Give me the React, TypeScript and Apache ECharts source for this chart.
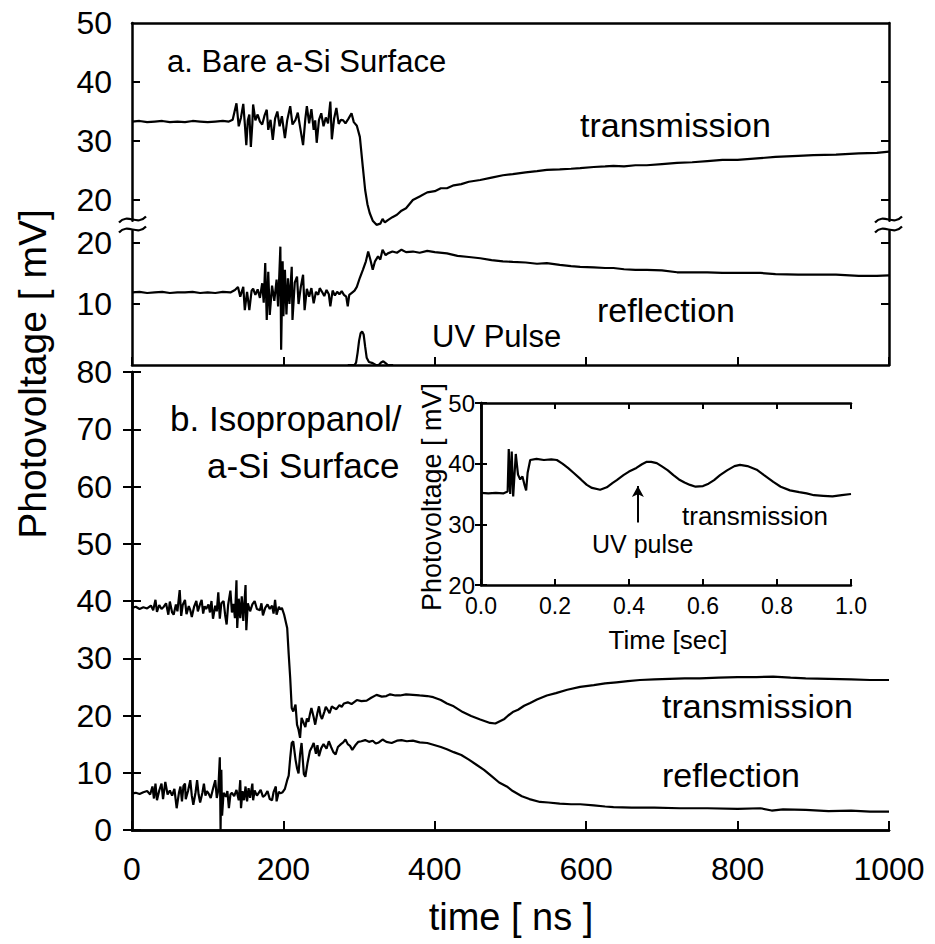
import React, { useEffect, useRef } from "react";
import * as echarts from "echarts";

// ---------- DATA ----------
// Panel a (bare a-Si): time [ns], photovoltage [mV]
const transA: [number, number][] = [
  [0,33.3],[10,33.4],[20,33.2],[30,33.3],[40,33.4],[50,33.2],[60,33.3],[70,33.2],[80,33.4],[90,33.3],[100,33.2],[110,33.3],[120,33.4],[128,33.3],[133,33.6],
  [138,36.4],[141,32.5],[144,34],[147,36.3],[149,33],[151,29.3],[153,33.5],[155,34.5],[157,29.0],[159,33],[160,36.2],[163,33.5],[166,34.5],[169,33.3],[172,32.8],[175,34.3],[178,35.3],[180,31.9],[183,33.6],[186,30.2],[189,33.8],[192,35.0],[195,32.5],[198,34.2],[202,30.5],[205,33.5],[209,35.9],[212,32.8],[216,33.6],[219,34.8],[222,32.4],[226,29.3],[229,33.8],[231,35.9],[234,33.0],[237,35.4],[240,31.9],[242,33.5],[244,29.7],[247,33.6],[250,34.7],[253,32.5],[256,34.0],[259,33.0],[262,36.7],[264,30.3],[267,33.8],[270,35.6],[273,32.9],[276,33.6],[279,33.5],[282,33.0],[286,33.8],[290,34.7],[293,33.2],
  [297,32.6],[301,30.7],[305,25.5],[308,21.7],[311,19.3],[314,17.8],[318,16.5],[323,15.8],[328,16.0],[331,16.8],[334,16.2],[338,16.6],[344,17.1],[350,17.5],[356,18.2],[362,18.6],[371,20.0],[380,20.6],[390,21.3],[400,21.5],[408,22.0],[416,22.0],[425,22.5],[435,22.7],[445,23.1],[460,23.4],[475,23.8],[490,24.2],[503,24.4],[520,24.7],[535,24.9],[548,25.1],[565,25.2],[580,25.3],[592,25.4],[610,25.6],[625,25.7],[636,25.8],[650,25.7],[665,25.9],[680,25.9],[700,26.1],[720,26.3],[740,26.4],[760,26.6],[780,26.8],[800,26.8],[830,27.1],[850,27.3],[880,27.5],[900,27.6],[930,27.7],[960,27.9],[984,28.0],[1000,28.2]
];
const reflA: [number, number][] = [
  [0,11.9],[10,12.0],[20,11.8],[30,11.9],[40,12.0],[50,11.8],[60,11.9],[70,11.9],[80,12.0],[90,11.8],[100,11.9],[110,11.8],[120,12.0],[130,11.9],[136,12.3],
  [140,12.8],[143,11.2],[147,12.8],[149,9.0],[152,12.0],[155,9.0],[158,12.2],[160,12.5],[163,11.5],[166,12.4],[169,11.0],[172,13.4],[174,10.2],[176,16.7],[178,7.4],[180,15.3],[182,8.2],[185,13.0],[188,10.5],[191,14.0],[193,9.6],[196,19.4],[197,2.5],[199,17.0],[200,8.0],[202,15.6],[204,8.3],[206,14.2],[208,10.0],[211,16.1],[212,7.4],[215,13.5],[218,14.5],[220,10.0],[223,12.8],[226,14.8],[228,9.0],[231,12.5],[234,11.2],[237,12.6],[240,10.1],[243,12.0],[246,11.5],[248,12.6],[251,12.0],[254,11.3],[257,12.3],[260,11.6],[262,9.6],[265,12.2],[268,11.4],[271,12.0],[274,11.6],[277,12.1],[280,11.5],[283,11.2],[285,9.6],[287,11.5],[290,11.8],[294,12.2],
  [297,12.8],[301,14.3],[305,15.6],[309,17.0],[312,18.6],[315,17.2],[318,15.6],[321,17.0],[325,17.8],[328,17.3],[331,18.9],[335,18.0],[338,18.3],[344,18.6],[350,18.4],[356,18.9],[362,18.5],[371,18.6],[380,18.4],[390,18.7],[400,18.5],[416,18.3],[430,17.9],[445,17.7],[460,17.5],[475,17.2],[490,17.0],[503,16.9],[520,16.8],[535,16.6],[548,16.7],[565,16.4],[580,16.2],[592,16.1],[610,16.0],[625,15.9],[636,15.9],[650,15.7],[665,15.6],[680,15.6],[700,15.5],[720,15.2],[740,15.2],[760,15.2],[780,15.1],[800,15.1],[830,15.1],[850,14.9],[880,14.8],[900,14.8],[930,14.8],[960,14.6],[984,14.6],[1000,14.7]
];
const uvPulse: [number, number][] = [
  [285,0],[294,0],[296,0.4],[298,2.0],[300,4.0],[302,5.2],[304,5.5],[306,5.0],[308,3.0],[310,1.2],[313,0.5],[318,0.3],[322,0],[326,0],[329,0.4],[332,0.6],[335,0.3],[338,0],[345,0]
];
// Panel b (isopropanol / a-Si)
const transB: [number, number][] = [
  [0,38.8],[5,39.0],[10,38.6],[15,38.9],[20,38.7],[25,39.2],[28,38.4],[31,40.2],[33,38.1],[36,39.3],[39,38.6],[42,39.0],[45,39.6],[48,37.6],[50,39.9],[53,38.0],[55,37.6],[58,39.4],[60,38.2],[63,41.9],[65,37.4],[67,39.3],[70,40.2],[72,37.7],[75,39.1],[77,38.4],[79,37.2],[82,39.0],[85,40.0],[87,38.2],[90,39.5],[92,40.2],[94,37.8],[96,39.1],[98,38.6],[101,39.4],[103,38.0],[105,40.0],[107,36.9],[110,39.2],[112,38.2],[114,41.5],[116,36.9],[118,39.6],[121,40.0],[123,37.6],[125,35.9],[127,39.3],[130,41.8],[132,38.0],[134,39.5],[136,37.0],[138,43.6],[139,35.3],[141,40.4],[143,37.0],[145,40.8],[147,36.5],[150,42.8],[151,34.9],[153,39.6],[156,38.2],[159,39.4],[162,40.0],[165,38.6],[169,38.4],[171,39.6],[173,37.5],[176,38.8],[179,39.4],[182,38.6],[185,39.2],[187,37.8],[189,40.2],[191,37.6],[194,39.0],[196,38.5],[198,38.8],
  [201,37.6],[205,35.3],[207,30.7],[209,26.5],[211,21.3],[213,20.7],[216,21.9],[218,18.4],[220,17.5],[222,16.1],[224,19.6],[227,18.6],[229,18.0],[231,19.5],[233,18.9],[235,20.2],[237,21.3],[240,19.7],[242,18.4],[245,20.5],[247,21.6],[249,20.0],[251,19.4],[254,20.6],[256,21.5],[258,21.1],[261,20.4],[264,21.6],[267,21.3],[270,21.1],[274,21.8],[277,21.5],[280,22.1],[285,22.3],[290,22.0],[297,22.7],[303,22.5],[310,22.6],[316,23.1],[323,23.6],[330,23.3],[336,23.4],[341,23.7],[348,23.5],[354,23.5],[362,23.7],[371,23.6],[380,23.5],[390,23.4],[398,23.2],[408,22.7],[416,22.1],[425,21.6],[437,20.6],[448,19.9],[460,19.3],[473,18.7],[480,18.6],[486,19.0],[492,19.4],[497,20.0],[503,20.6],[510,21.0],[518,21.7],[526,22.2],[535,22.8],[548,23.5],[560,23.9],[575,24.5],[592,25.0],[610,25.3],[625,25.6],[640,25.8],[655,26.0],[671,26.2],[690,26.3],[710,26.4],[730,26.5],[750,26.5],[775,26.6],[800,26.7],[825,26.7],[847,26.8],[870,26.6],[890,26.5],[920,26.4],[950,26.3],[975,26.2],[1000,26.2]
];
const reflB: [number, number][] = [
  [0,6.4],[5,6.5],[10,6.3],[15,6.6],[20,6.8],[24,6.2],[27,7.6],[29,5.5],[31,8.1],[33,5.2],[36,6.9],[39,8.1],[41,5.4],[44,8.4],[47,6.2],[50,6.9],[53,6.0],[56,7.2],[59,3.8],[62,6.5],[64,7.6],[66,5.0],[68,7.7],[70,8.1],[71,5.4],[74,6.8],[77,8.7],[79,6.0],[81,4.4],[84,6.6],[86,8.7],[88,6.2],[90,4.8],[93,6.5],[95,8.1],[97,6.0],[99,6.8],[101,6.4],[104,5.6],[107,7.2],[110,8.7],[112,5.6],[114,7.0],[116,12.7],[117,0],[118,10.5],[119,2.5],[121,6.5],[124,5.8],[126,6.8],[128,3.8],[130,6.2],[132,6.5],[135,5.9],[138,7.0],[141,5.2],[143,8.7],[144,3.8],[146,6.8],[148,5.2],[150,7.6],[152,5.0],[154,7.3],[156,5.6],[159,8.1],[160,5.2],[162,6.9],[165,6.0],[167,6.4],[170,7.0],[173,5.8],[176,6.1],[179,6.8],[182,5.4],[185,5.2],[187,6.6],[190,7.6],[191,5.0],[194,6.7],[196,6.4],[199,6.6],
  [202,7.2],[205,8.7],[207,9.5],[209,12.6],[211,15.2],[213,15.5],[216,12.3],[218,10.8],[220,9.9],[222,13.2],[224,15.2],[227,9.8],[229,9.3],[232,11.8],[235,13.8],[238,14.6],[240,15.2],[243,13.3],[245,14.8],[247,12.9],[250,14.3],[253,15.0],[257,14.2],[260,15.5],[263,14.5],[266,13.6],[269,13.2],[272,14.5],[276,15.0],[279,15.3],[282,15.8],[285,15.0],[288,14.7],[291,14.0],[295,14.8],[299,15.4],[303,15.5],[308,15.7],[313,15.4],[318,15.6],[322,15.1],[326,15.3],[331,15.8],[336,15.4],[343,15.2],[350,15.6],[356,15.7],[363,15.5],[371,15.6],[380,15.3],[390,15.2],[398,14.9],[408,14.5],[416,14.1],[425,13.6],[435,13.1],[445,12.3],[455,11.4],[465,10.5],[475,9.4],[485,8.3],[495,7.6],[503,6.8],[515,5.9],[525,5.4],[539,4.9],[550,4.8],[565,4.6],[580,4.5],[592,4.5],[610,4.3],[625,4.1],[636,4.0],[660,3.9],[690,3.9],[724,3.8],[760,3.8],[800,3.7],[830,3.8],[845,3.4],[860,3.6],[890,3.5],[920,3.3],[950,3.4],[975,3.2],[1000,3.2]
];
// Inset: time [sec], photovoltage [mV]
const insetTrans: [number, number][] = [
  [0,35.2],[0.02,35.1],[0.04,35.2],[0.06,35.1],[0.072,35.4],[0.075,42.4],[0.079,35.0],[0.083,42.0],[0.087,34.6],[0.094,41.6],[0.1,38.2],[0.106,37.4],[0.112,37.9],[0.118,36.4],[0.122,35.6],[0.126,38.5],[0.133,40.6],[0.15,40.8],[0.17,40.6],[0.19,40.7],[0.205,40.6],[0.22,40.0],[0.235,39.3],[0.25,38.5],[0.27,37.4],[0.286,36.5],[0.3,36.0],[0.322,35.7],[0.34,36.1],[0.355,36.8],[0.367,37.3],[0.385,38.1],[0.4,38.7],[0.42,39.3],[0.435,39.9],[0.448,40.3],[0.46,40.3],[0.475,40.1],[0.49,39.5],[0.505,38.9],[0.52,38.1],[0.535,37.4],[0.55,36.9],[0.565,36.5],[0.58,36.2],[0.6,36.3],[0.615,36.7],[0.63,37.3],[0.646,38.1],[0.665,38.9],[0.685,39.6],[0.7,39.8],[0.72,39.6],[0.745,39.0],[0.765,38.1],[0.79,37.0],[0.81,36.2],[0.835,35.6],[0.86,35.3],[0.88,35.1],[0.9,34.8],[0.925,34.7],[0.95,34.6],[0.975,34.8],[1.0,35.0]
];
const uvArrow: [number, number][] = [[0.424, 30.3], [0.424, 36.3]];
const upperTicks = [20, 30, 40];
const upperLabels = [20, 30, 40, 50];
const lowerTopTicks = [10, 20];

const FONT = "'Liberation Sans', Arial, sans-serif";
const BLACK = "#000";

export default function App() {
  const ref = useRef<HTMLDivElement>(null);
  useEffect(() => {
    if (!ref.current) return;
    const chart = echarts.init(ref.current, undefined, { renderer: "svg" });
    const line = { show: true, lineStyle: { color: BLACK, width: 2.5 } };
    const tick = (len: number, extra: any = {}) => ({ show: true, inside: true, length: len, lineStyle: { color: BLACK, width: 2 }, ...extra });
    const noLabel = { show: false };
    const label = (size: number, margin: number, extra: any = {}) => ({ show: true, color: BLACK, fontFamily: FONT, fontSize: size, margin, ...extra });
    const base = { type: "value", splitLine: { show: false } };
    const lineSeries = (data: any, xi: number, yi: number, extra: any = {}) => ({
      type: "line", data, xAxisIndex: xi, yAxisIndex: yi, showSymbol: false, symbol: "none",
      lineStyle: { color: BLACK, width: 2.2 }, silent: true, animation: false, ...extra,
    });
    const text = (t: string, x: number, y: number, size: number, extra: any = {}) => ({
      type: "text", x, y, ...extra,
      style: { text: t, fill: BLACK, font: `${size}px ${FONT}`, verticalAlign: "middle", align: "left", ...(extra.style || {}) },
    });
    const wave = (x: number, y: number) => ({
      type: "bezierCurve",
      shape: { x1: x, y1: y + 3, cpx1: x + 9, cpy1: y - 7, cpx2: x + 18, cpy2: y + 7, x2: x + 27, y2: y - 3 },
      style: { stroke: BLACK, lineWidth: 2.2, fill: null },
    });
    const plain = (v: number) => String(v);

    chart.setOption({
      animation: false,
      grid: [
        { left: 132, right: 46, top: 23, height: 197.7 },
        { left: 132, right: 46, top: 230.8, height: 134.2 },
        { left: 132, right: 46, top: 372, height: 458 },
        { left: 481, width: 370, top: 403, height: 182, show: true, backgroundColor: "#fff", borderWidth: 0 },
      ],
      xAxis: [
        { ...base, gridIndex: 0, min: 0, max: 1000, position: "top", axisLine: line, axisTick: { show: false }, axisLabel: noLabel },
        { ...base, gridIndex: 1, min: 0, max: 1000, interval: 200, position: "bottom", axisLine: line, axisTick: tick(8), axisLabel: noLabel },
        { ...base, gridIndex: 2, min: 0, max: 1000, interval: 200, position: "bottom", axisLine: line, axisTick: tick(9), axisLabel: label(32, 23, { formatter: plain }) },
        { ...base, gridIndex: 2, min: 0, max: 1000, position: "top", axisLine: line, axisTick: { show: false }, axisLabel: noLabel },
        { ...base, gridIndex: 3, min: 0, max: 1, interval: 0.2, position: "bottom", axisLine: line, axisTick: tick(6), axisLabel: label(23, 11, { lineHeight: 20, formatter: (v: number) => v.toFixed(1) }) },
        { ...base, gridIndex: 3, min: 0, max: 1, interval: 0.2, position: "top", axisLine: line, axisTick: tick(6), axisLabel: noLabel },
      ],
      yAxis: [
        { ...base, gridIndex: 0, min: 16.5, max: 50, position: "left", axisLine: line, axisTick: tick(8, { customValues: upperTicks }), axisLabel: label(32, 20, { customValues: upperLabels, formatter: plain }) },
        { ...base, gridIndex: 0, min: 16.5, max: 50, position: "right", axisLine: line, axisTick: tick(8, { customValues: upperTicks }), axisLabel: noLabel },
        { ...base, gridIndex: 1, min: 0, max: 22, position: "left", axisLine: line, axisTick: tick(8, { customValues: lowerTopTicks }), axisLabel: label(32, 20, { customValues: lowerTopTicks, formatter: plain }) },
        { ...base, gridIndex: 1, min: 0, max: 22, position: "right", axisLine: line, axisTick: tick(8, { customValues: lowerTopTicks }), axisLabel: noLabel },
        { ...base, gridIndex: 2, min: 0, max: 80, interval: 10, position: "left", axisLine: line, axisTick: tick(9), axisLabel: label(32, 20, { formatter: plain }) },
        { ...base, gridIndex: 2, min: 0, max: 80, interval: 10, position: "right", axisLine: line, axisTick: tick(9), axisLabel: noLabel },
        { ...base, gridIndex: 3, min: 20, max: 50, interval: 10, position: "left", axisLine: line, axisTick: tick(6), axisLabel: label(24, 6, { lineHeight: 18, formatter: plain }) },
        { ...base, gridIndex: 3, min: 20, max: 50, interval: 10, position: "right", axisLine: line, axisTick: tick(6), axisLabel: noLabel },
      ],
      series: [
        lineSeries(transA, 0, 0, { clip: false }),
        lineSeries(reflA, 1, 2),
        lineSeries(uvPulse, 1, 2),
        lineSeries(transB, 2, 4),
        lineSeries(reflB, 2, 4),
        lineSeries(insetTrans, 4, 6, {
          markLine: {
            silent: true, symbol: ["none", "arrow"], symbolSize: [9, 11], label: { show: false },
            lineStyle: { color: BLACK, width: 2, type: "solid" },
            data: [[{ coord: uvArrow[0] }, { coord: uvArrow[1] }]],
          },
        }),
      ],
      graphic: [
        wave(119, 219.5), wave(119, 229.5), wave(875, 219.5), wave(875, 229.5),
        text("a. Bare a-Si Surface", 167, 61, 31),
        text("transmission", 580, 125, 34),
        text("reflection", 597, 310, 34),
        text("UV Pulse", 432, 336, 31),
        text("b. Isopropanol/", 170, 418, 35),
        text("a-Si Surface", 207, 465, 35),
        text("transmission", 662, 706, 34),
        text("reflection", 662, 775, 34),
        text("transmission", 682, 516, 26),
        text("UV pulse", 592, 544, 25),
        text("Time [sec]", 668, 640, 26, { style: { align: "center" } }),
        text("Photovoltage [ mV]", 432, 497, 27, { rotation: Math.PI / 2, style: { align: "center" } }),
        text("Photovoltage [ mV]", 32, 374, 39, { rotation: Math.PI / 2, style: { align: "center" } }),
        text("time [ ns ]", 511, 917, 38, { style: { align: "center" } }),
      ],
    });
    return () => chart.dispose();
  }, []);
  return <div ref={ref} style={{ position: "fixed", left: 0, top: 0, width: 935, height: 944, background: "#fff" }} />;
}
